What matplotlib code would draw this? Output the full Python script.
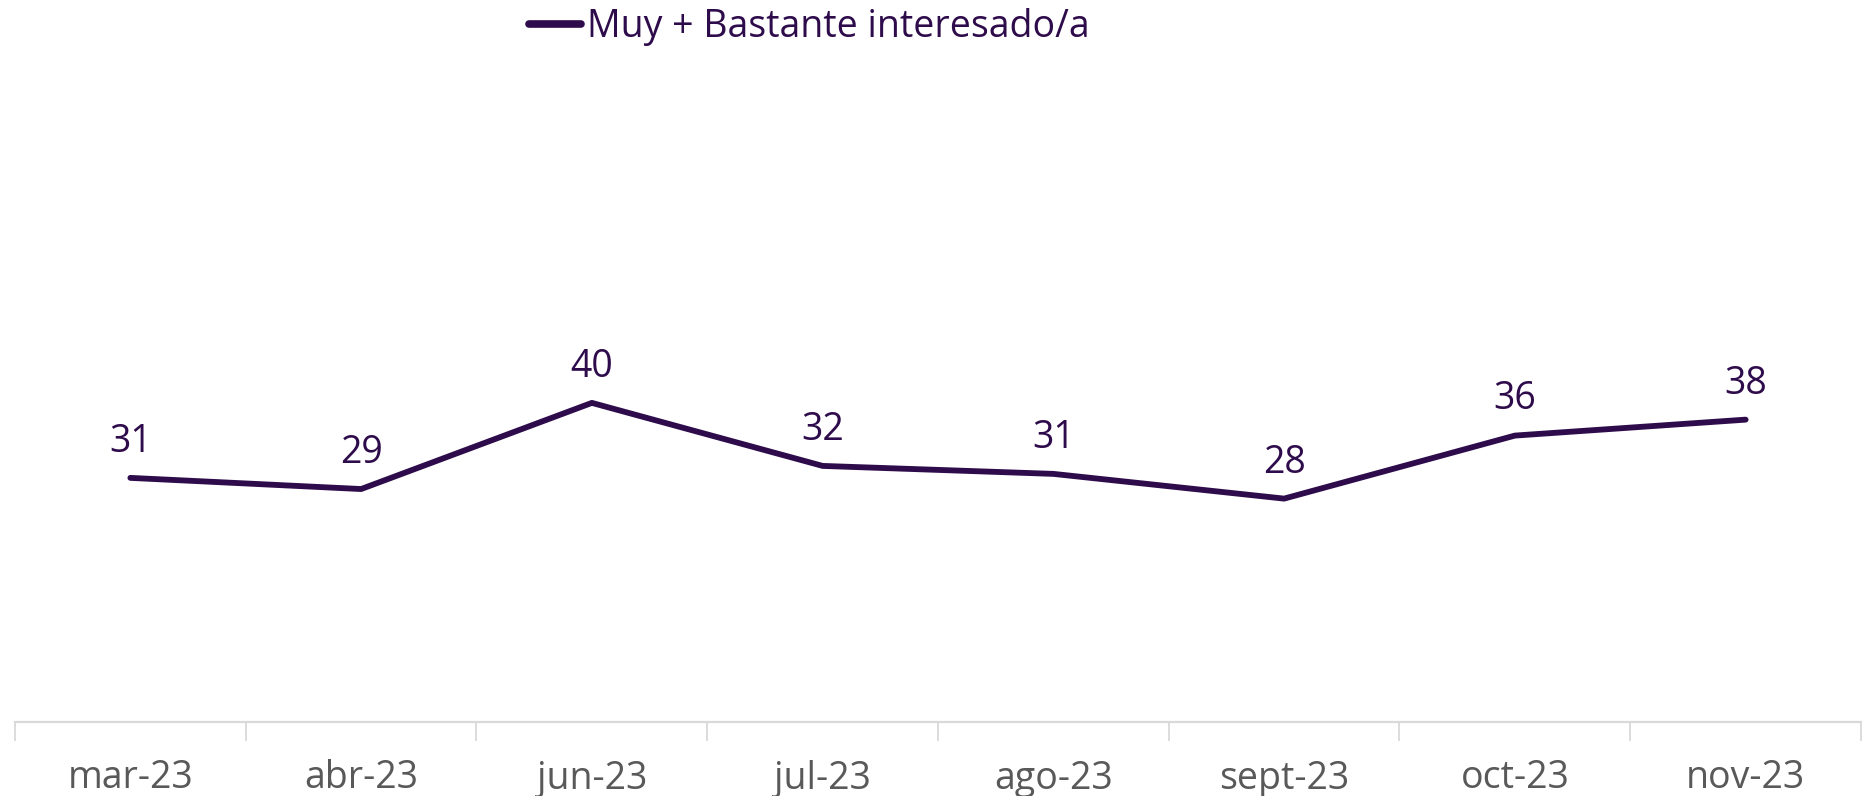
import matplotlib
matplotlib.use("Agg")
import matplotlib.pyplot as plt

categories = ["mar-23", "abr-23", "jun-23", "jul-23", "ago-23", "sept-23", "oct-23", "nov-23"]
values = [30.6, 29.2, 40.0, 32.1, 31.1, 28.0, 35.9, 37.9]
labels = ["31", "29", "40", "32", "31", "28", "36", "38"]
series_name = "Muy + Bastante interesado/a"

LINE = "#2E0B4B"
GRAY = "#595959"
LIGHT = "#D9D9D9"
FONT = "Open Sans"

fig = plt.figure(figsize=(18.65, 7.96), dpi=100)
ax = fig.add_axes([15/1865, 1 - 722/796, (1861-15)/1865, 722/796])
x = list(range(len(categories)))
ln, = ax.plot(x, values, color=LINE, lw=4.2, solid_joinstyle="round", solid_capstyle="round",
              label=series_name)
for xi, v, lab in zip(x, values, labels):
    ax.annotate(lab, (xi, v), xytext=(0, 26), textcoords="offset points",
                ha="center", va="center", fontsize=27, color=LINE, family=FONT)

ax.set_xlim(-0.5, len(categories) - 0.5)
ax.set_ylim(0, 90.5)
ax.set_yticks([])
ax.set_xticks(x)
ax.set_xticklabels(categories, fontsize=27, color=GRAY, family=FONT)
ax.set_xticks([i - 0.5 for i in range(len(categories) + 1)], minor=True)
ax.tick_params(axis="x", which="major", length=0, pad=27)
ax.tick_params(axis="x", which="minor", length=14, width=1.3, color=LIGHT)
for s in ["top", "left", "right"]:
    ax.spines[s].set_visible(False)
ax.spines["bottom"].set_color(LIGHT)
ax.spines["bottom"].set_linewidth(1.6)

leg = fig.legend(handles=[ln], loc="center left", bbox_to_anchor=(529/1865, 1 - 27/796),
                 frameon=False, prop={"family": FONT, "size": 27}, handlelength=1.4,
                 handletextpad=0.15, borderaxespad=0, borderpad=0)
for t in leg.get_texts():
    t.set_color(LINE)
for h in leg.get_lines():
    h.set_linewidth(5.5)

fig.savefig("out.png", dpi=100)
